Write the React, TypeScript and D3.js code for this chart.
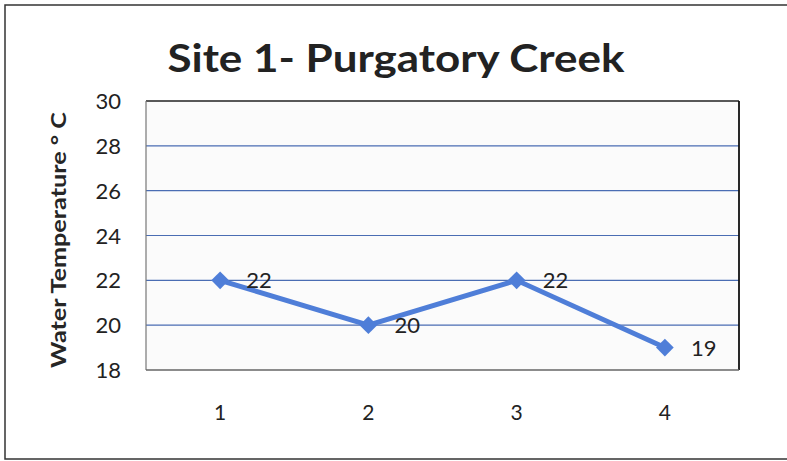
import React, { useEffect, useRef } from 'react';
import * as d3 from 'd3';

const sites = ['1', '2', '3', '4'];
const temps = [22, 20, 22, 19];
const yTicks = [18, 20, 22, 24, 26, 28, 30];

const W = 787;
const H = 461;
const font = 'Lato, "Open Sans", sans-serif';

export default function App() {
  const ref = useRef<SVGSVGElement>(null);

  useEffect(() => {
    const svg = d3.select(ref.current);
    svg.selectAll('*').remove();

    const left = 146, right = 739, top = 101, bottom = 370;

    const x = d3.scaleBand().domain(sites).range([left, right]);
    const y = d3.scaleLinear().domain([18, 30]).range([bottom, top]);
    const cx = (d: string) => (x(d) as number) + x.bandwidth() / 2;

    svg.append('rect').attr('width', W).attr('height', H).attr('fill', '#fff');

    // outer frame (right edge falls outside the picture)
    svg.append('rect')
      .attr('x', 5).attr('y', 5).attr('width', 800).attr('height', 454)
      .attr('fill', 'none').attr('stroke', '#333').attr('stroke-width', 1.5);

    svg.append('text')
      .attr('x', 396).attr('y', 72)
      .attr('text-anchor', 'middle')
      .attr('font-family', font).attr('font-weight', 'bold')
      .attr('font-size', 39).attr('fill', '#222')
      .attr('textLength', 457).attr('lengthAdjust', 'spacingAndGlyphs')
      .text('Site 1- Purgatory Creek');

    // plot area
    svg.append('rect')
      .attr('x', left).attr('y', top).attr('width', right - left).attr('height', bottom - top)
      .attr('fill', '#fbfbfb');

    svg.append('g').selectAll('line')
      .data(yTicks.filter(t => t > 18 && t < 30))
      .join('line')
      .attr('x1', left).attr('x2', right)
      .attr('y1', d => y(d)).attr('y2', d => y(d))
      .attr('stroke', '#4a6db3').attr('stroke-width', 1.2);

    svg.append('line').attr('x1', left).attr('x2', right).attr('y1', top).attr('y2', top)
      .attr('stroke', '#222').attr('stroke-width', 1.5);
    svg.append('line').attr('x1', right).attr('x2', right).attr('y1', top).attr('y2', bottom)
      .attr('stroke', '#111').attr('stroke-width', 1.8);
    svg.append('line').attr('x1', left).attr('x2', left).attr('y1', top).attr('y2', bottom)
      .attr('stroke', '#777').attr('stroke-width', 1.2);
    svg.append('line').attr('x1', left).attr('x2', right).attr('y1', bottom).attr('y2', bottom)
      .attr('stroke', '#666').attr('stroke-width', 1.5);

    // y tick labels
    svg.append('g').selectAll('text')
      .data(yTicks)
      .join('text')
      .attr('x', 121).attr('y', d => y(d) + 8)
      .attr('text-anchor', 'end')
      .attr('font-family', font).attr('font-size', 22).attr('fill', '#222')
      .text(d => d);

    // x tick labels
    svg.append('g').selectAll('text')
      .data(sites)
      .join('text')
      .attr('x', d => cx(d)).attr('y', 420)
      .attr('text-anchor', 'middle')
      .attr('font-family', font).attr('font-size', 21).attr('fill', '#222')
      .text(d => d);

    svg.append('text')
      .attr('transform', 'translate(66,240) rotate(-90)')
      .attr('text-anchor', 'middle')
      .attr('font-family', font).attr('font-weight', 'bold')
      .attr('font-size', 21).attr('fill', '#262626')
      .attr('textLength', 256).attr('lengthAdjust', 'spacingAndGlyphs')
      .text('Water  Temperature ° C');

    const pts = sites.map((s, i) => ({ s, v: temps[i] }));

    svg.append('path')
      .datum(pts)
      .attr('d', d3.line<{ s: string; v: number }>().x(d => cx(d.s)).y(d => y(d.v)))
      .attr('fill', 'none').attr('stroke', '#4f7ed8').attr('stroke-width', 5);

    svg.append('g').selectAll('path')
      .data(pts)
      .join('path')
      .attr('transform', d => `translate(${cx(d.s)},${y(d.v)})`)
      .attr('d', d3.symbol(d3.symbolDiamond2, 200)())
      .attr('fill', '#4f7ed8');

    svg.append('g').selectAll('text')
      .data(pts)
      .join('text')
      .attr('x', d => cx(d.s) + 26).attr('y', d => y(d.v) + 8)
      .attr('font-family', font).attr('font-size', 22).attr('fill', '#222')
      .text(d => d.v);
  }, []);

  return (
    <svg
      ref={ref}
      width={W}
      height={H}
      style={{ position: 'absolute', left: 0, top: 0, display: 'block' }}
    />
  );
}
